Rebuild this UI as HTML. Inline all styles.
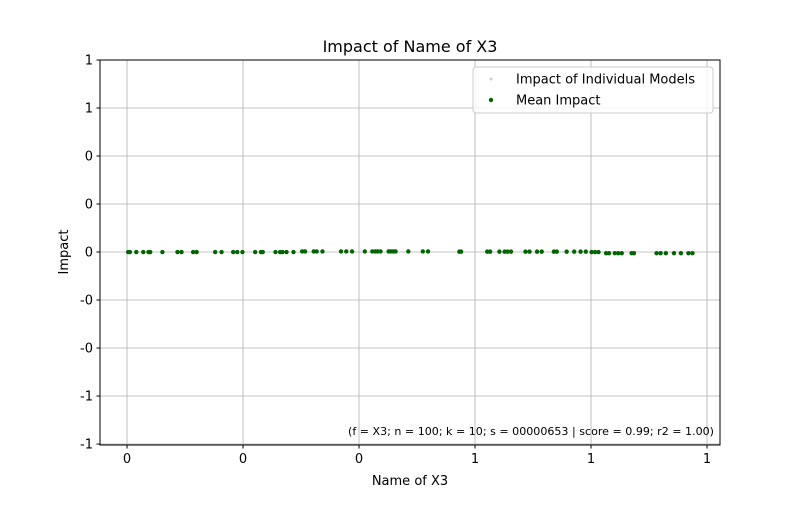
<!DOCTYPE html>
<html><head><meta charset="utf-8"><style>
body{margin:0;background:#fff;font-family:"Liberation Sans","DejaVu Sans",sans-serif;}
svg text{font-family:"DejaVu Sans","Liberation Sans",sans-serif;}
</style></head><body>
<svg id="chart" width="800" height="500" xmlns="http://www.w3.org/2000/svg">
<rect width="800" height="500" fill="#fff"/>
<g id="grid"></g>
<g id="points"></g>
<rect x="100" y="60" width="620" height="385" fill="none" stroke="#000" stroke-width="1"/>
<g id="ticks"></g>
<text x="410" y="52" font-size="16" text-anchor="middle">Impact of Name of X3</text>
<text x="410" y="485" font-size="13" text-anchor="middle">Name of X3</text>
<text transform="translate(68,252) rotate(-90)" font-size="13" text-anchor="middle">Impact</text>
<g>
<rect x="473" y="67" width="240" height="46" rx="3" fill="#fff" fill-opacity="0.8" stroke="#ccc"/>
<circle cx="491" cy="79" r="1.5" fill="#ccc"/>
<text x="516" y="83.5" font-size="13">Impact of Individual Models</text>
<circle cx="491" cy="100" r="2.2" fill="#006400"/>
<text x="516" y="104.5" font-size="13">Mean Impact</text>
</g>
<text x="714" y="435" font-size="10.5" text-anchor="end" textLength="366" lengthAdjust="spacingAndGlyphs">(f = X3; n = 100; k = 10; s = 00000653 | score = 0.99; r2 = 1.00)</text>
</svg>
<script>
const xTickValues=[0,0.2,0.4,0.6,0.8,1.0];
const xTickLabels=["0","0","0","1","1","1"];
const yTickValues=[1,0.75,0.5,0.25,0,-0.25,-0.5,-0.75,-1];
const yTickLabels=["1","1","0","0","0","-0","-0","-1","-1"];
const meanX=[0.002,0.005,0.016,0.028,0.037,0.040,0.061,0.087,0.094,0.114,0.120,0.152,0.163,0.183,0.190,0.199,0.221,0.231,0.234,0.256,0.264,0.268,0.275,0.287,0.302,0.307,0.322,0.327,0.337,0.369,0.378,0.388,0.410,0.423,0.428,0.432,0.437,0.451,0.455,0.459,0.463,0.485,0.510,0.519,0.573,0.576,0.621,0.626,0.642,0.651,0.656,0.662,0.687,0.694,0.707,0.715,0.736,0.741,0.758,0.771,0.782,0.791,0.801,0.807,0.813,0.826,0.831,0.841,0.847,0.853,0.870,0.874,0.913,0.920,0.929,0.943,0.955,0.968,0.975];
const meanY=[0,0,0,0,0,0,0,0,0,0,0,0,0,0,0,0,0,0,0,0,0,0,0,0,0.003,0.003,0.003,0.003,0.003,0.003,0.003,0.003,0.003,0.003,0.003,0.003,0.003,0.003,0.003,0.003,0.003,0.003,0.003,0.003,0.002,0.002,0.002,0.002,0.002,0.002,0.002,0.002,0.002,0.002,0.002,0.002,0.002,0.002,0.002,0.002,0.002,0.002,0.0,0.0,0.0,-0.006,-0.006,-0.006,-0.006,-0.006,-0.006,-0.006,-0.006,-0.006,-0.006,-0.006,-0.006,-0.006,-0.006];
const NS="http://www.w3.org/2000/svg";
const X0=100,X1=720,Y0=60,Y1=445;
const xMin=-0.0466,xMax=1.0224,yMin=-1.005,yMax=1.0;
function sx(v){return X0+(v-xMin)/(xMax-xMin)*(X1-X0);}
function sy(v){return Y1-(v-yMin)/(yMax-yMin)*(Y1-Y0);}
function mk(tag,attrs,parent){const e=document.createElementNS(NS,tag);for(const k in attrs)e.setAttribute(k,attrs[k]);parent.appendChild(e);return e;}
const grid=document.getElementById('grid'),ticks=document.getElementById('ticks'),pts=document.getElementById('points');
xTickValues.forEach((v,i)=>{const x=sx(v);
 const g=mk('line',{x1:x,x2:x,y1:Y0,y2:Y1,stroke:'#b0b0b0','stroke-width':0.8},grid);
 
 
 mk('line',{x1:x,x2:x,y1:Y1,y2:Y1+3.5,stroke:'#000'},ticks);
 const t=mk('text',{x:x,y:Y1+18,'font-size':13,'text-anchor':'middle'},ticks);t.textContent=xTickLabels[i];
 
 
});
yTickValues.forEach((v,i)=>{const y=sy(v);
 const g=mk('line',{x1:X0,x2:X1,y1:y,y2:y,stroke:'#b0b0b0','stroke-width':0.8},grid);
 
 
 mk('line',{x1:X0-3.5,x2:X0,y1:y,y2:y,stroke:'#000'},ticks);
 const t=mk('text',{x:X0-7,y:y+4.5,'font-size':13,'text-anchor':'end'},ticks);t.textContent=yTickLabels[i];
 
 
});
meanX.forEach((v,i)=>{
 const c=mk('circle',{cx:sx(v),cy:sy(meanY[i]),r:2.2,fill:'#006400'},pts);
 
 
});
</script>
</body></html>
